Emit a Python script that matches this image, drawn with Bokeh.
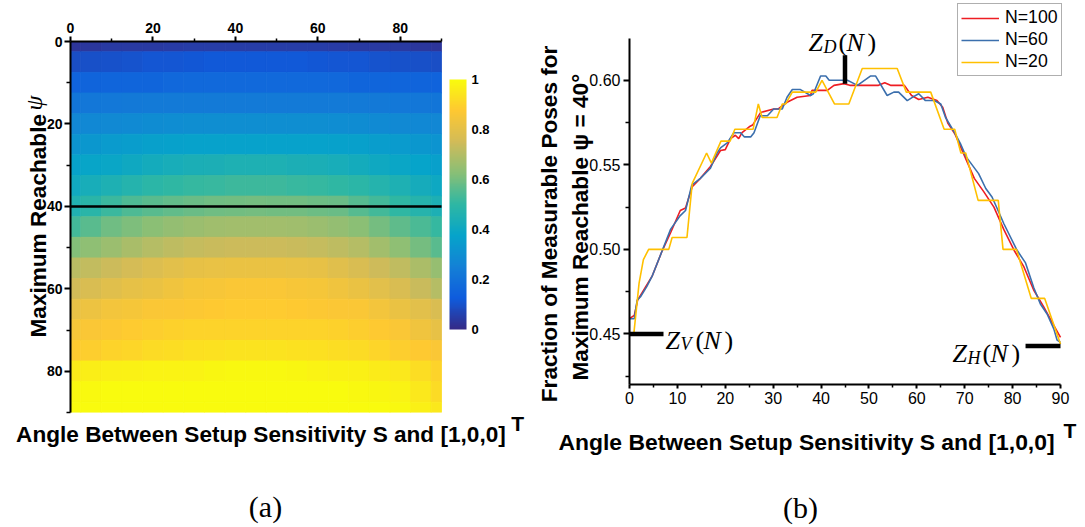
import math
import numpy as np
from bokeh.plotting import figure
from bokeh.models import (Range1d, FixedTicker, PrintfTickFormatter, NumeralTickFormatter,
                          LinearColorMapper, ColorBar, Label, Legend, LegendItem, ColumnDataSource)
from bokeh.transform import linear_cmap
from bokeh.embed import file_html
from bokeh.resources import INLINE

# ======================= (a) heat-map data =======================
angle_cols = [0, 5, 10, 15, 20, 25, 30, 35, 40, 45, 50, 55, 60, 65, 70, 75, 80, 85, 90]
psi_rows = [0, 5, 10, 15, 20, 25, 30, 35, 40, 45, 50, 55, 60, 65, 70, 75, 80, 85, 90]

frac_psi00 = [0.03, 0.035, 0.04, 0.04, 0.04, 0.045, 0.05, 0.05, 0.05, 0.05, 0.05, 0.05, 0.05,
              0.045, 0.04, 0.04, 0.04, 0.035, 0.03]
frac_psi05 = [0.09, 0.095, 0.10, 0.105, 0.11, 0.11, 0.115, 0.12, 0.12, 0.12, 0.12, 0.12, 0.115,
              0.11, 0.11, 0.105, 0.10, 0.095, 0.09]
frac_psi10 = [0.15, 0.155, 0.16, 0.16, 0.16, 0.165, 0.17, 0.17, 0.17, 0.17, 0.17, 0.17, 0.17,
              0.165, 0.16, 0.16, 0.16, 0.155, 0.15]
frac_psi15 = [0.21, 0.215, 0.22, 0.225, 0.23, 0.23, 0.23, 0.23, 0.23, 0.23, 0.23, 0.23, 0.23,
              0.23, 0.23, 0.225, 0.22, 0.215, 0.21]
frac_psi20 = [0.27, 0.275, 0.28, 0.285, 0.29, 0.295, 0.30, 0.30, 0.30, 0.30, 0.30, 0.30, 0.30,
              0.295, 0.29, 0.285, 0.28, 0.275, 0.27]
frac_psi25 = [0.32, 0.33, 0.34, 0.35, 0.36, 0.365, 0.37, 0.37, 0.37, 0.37, 0.37, 0.37, 0.37,
              0.365, 0.36, 0.35, 0.34, 0.33, 0.32]
frac_psi30 = [0.37, 0.38, 0.39, 0.405, 0.42, 0.43, 0.44, 0.445, 0.45, 0.45, 0.45, 0.445, 0.44,
              0.43, 0.42, 0.405, 0.39, 0.375, 0.36]
frac_psi35 = [0.41, 0.43, 0.45, 0.47, 0.49, 0.50, 0.51, 0.515, 0.52, 0.52, 0.52, 0.515, 0.51,
              0.50, 0.49, 0.47, 0.45, 0.425, 0.40]
frac_psi40 = [0.459, 0.486, 0.518, 0.543, 0.559, 0.5725, 0.583, 0.590, 0.594, 0.598, 0.597,
              0.597, 0.589, 0.585, 0.555, 0.529, 0.501, 0.473, 0.448]
frac_psi45 = [0.53, 0.56, 0.59, 0.61, 0.63, 0.645, 0.66, 0.665, 0.67, 0.67, 0.67, 0.665, 0.66,
              0.645, 0.63, 0.60, 0.57, 0.54, 0.51]
frac_psi50 = [0.62, 0.64, 0.66, 0.68, 0.70, 0.715, 0.73, 0.735, 0.74, 0.74, 0.74, 0.735, 0.73,
              0.715, 0.70, 0.67, 0.64, 0.60, 0.56]
frac_psi55 = [0.71, 0.725, 0.74, 0.76, 0.78, 0.795, 0.81, 0.815, 0.82, 0.82, 0.82, 0.815, 0.81,
              0.79, 0.77, 0.745, 0.72, 0.685, 0.65]
frac_psi60 = [0.75, 0.77, 0.79, 0.805, 0.82, 0.835, 0.85, 0.855, 0.86, 0.86, 0.86, 0.855, 0.85,
              0.835, 0.82, 0.795, 0.77, 0.735, 0.70]
frac_psi65 = [0.81, 0.825, 0.84, 0.85, 0.86, 0.865, 0.87, 0.875, 0.88, 0.88, 0.88, 0.875, 0.87,
              0.865, 0.86, 0.84, 0.82, 0.795, 0.77]
frac_psi70 = [0.85, 0.86, 0.87, 0.88, 0.89, 0.895, 0.90, 0.90, 0.90, 0.90, 0.90, 0.90, 0.90,
              0.895, 0.89, 0.875, 0.86, 0.835, 0.81]
frac_psi75 = [0.88, 0.89, 0.90, 0.91, 0.92, 0.925, 0.93, 0.935, 0.94, 0.94, 0.94, 0.935, 0.93,
              0.925, 0.92, 0.905, 0.89, 0.875, 0.86]
frac_psi80 = [0.96, 0.965, 0.97, 0.975, 0.98, 0.98, 0.98, 0.985, 0.99, 0.99, 0.99, 0.985, 0.98,
              0.975, 0.97, 0.96, 0.95, 0.925, 0.90]
frac_psi85 = [0.99, 0.995, 1.00, 1.00, 1.00, 1.00, 1.00, 1.00, 1.00, 1.00, 1.00, 1.00, 1.00,
              1.00, 0.99, 0.985, 0.98, 0.95, 0.92]
frac_psi90 = [1.00, 1.00, 1.00, 1.00, 1.00, 1.00, 1.00, 1.00, 1.00, 1.00, 1.00, 1.00, 1.00,
              1.00, 1.00, 1.00, 0.99, 0.97, 0.95]

heat_rows = [frac_psi00, frac_psi05, frac_psi10, frac_psi15, frac_psi20, frac_psi25,
             frac_psi30, frac_psi35, frac_psi40, frac_psi45, frac_psi50, frac_psi55,
             frac_psi60, frac_psi65, frac_psi70, frac_psi75, frac_psi80, frac_psi85,
             frac_psi90]

a_ticks = [0, 20, 40, 60, 80]
a_minor = [10, 30, 50, 70, 90]
cbar_ticks = [0, 0.2, 0.4, 0.6, 0.8, 1]
psi_slice = 40

# ======================= (b) line data =======================
n100_angle = [0, 1.0, 1.7, 3.3, 4.7, 6.8, 8.6, 10.6, 11.7, 13.1, 14.8, 16.9, 19.0, 20.0, 21.1,
              22.1, 22.8, 23.5, 25.0, 25.7, 27.4, 30.1, 31.0, 32.9, 35.0, 37.8, 38.1, 41.3, 42.7,
              44.8, 46.0, 52.0, 53.3, 54.5, 57.4, 58.9, 60.4, 62.3, 64.2, 65.4, 66.5, 68.0, 70.0,
              72.0, 74.0, 76.1, 78.2, 80.3, 82.3, 84.4, 86.5, 88.6, 90.0]
n100_frac = [0.459, 0.461, 0.470, 0.4775, 0.484, 0.499, 0.510, 0.523, 0.5245, 0.537, 0.542, 0.549,
             0.5585, 0.559, 0.5655, 0.5675, 0.5655, 0.569, 0.5725, 0.5735, 0.581, 0.583, 0.583,
             0.587, 0.590, 0.591, 0.594, 0.594, 0.597, 0.598, 0.597, 0.597, 0.5985, 0.597, 0.597,
             0.591, 0.5886, 0.590, 0.588, 0.584, 0.5745, 0.568, 0.555, 0.542, 0.534, 0.525,
             0.5115, 0.4995, 0.490, 0.476, 0.466, 0.455, 0.448]

n60_angle = [0, 1.0, 1.6, 2.3, 3.6, 4.7, 6.8, 8.6, 10.6, 11.7, 13.0, 14.8, 16.9, 18.3, 19.0, 20.4,
             21.8, 23.2, 24.0, 25.3, 26.0, 27.3, 28.8, 30.1, 31.9, 32.9, 34.0, 35.7, 37.8, 38.4,
             39.9, 41.0, 41.7, 45.5, 46.9, 47.6, 50.3, 51.4, 53.8, 55.2, 56.2, 58.0, 59.4, 60.4,
             61.8, 63.6, 65.0, 66.0, 67.8, 69.1, 70.3, 72.9, 74.4, 75.7, 76.8, 78.2, 80.9, 82.7,
             84.4, 85.8, 87.2, 88.6, 89.3, 90.0]
n60_frac = [0.459, 0.459, 0.470, 0.472, 0.478, 0.484, 0.499, 0.512, 0.520, 0.523, 0.538, 0.542,
            0.548, 0.557, 0.560, 0.563, 0.569, 0.569, 0.5665, 0.5665, 0.569, 0.579, 0.579, 0.583,
            0.583, 0.590, 0.5945, 0.5945, 0.591, 0.592, 0.6025, 0.6025, 0.600, 0.600, 0.598,
            0.597, 0.6025, 0.6025, 0.591, 0.593, 0.593, 0.588, 0.5905, 0.592, 0.588, 0.588,
            0.586, 0.578, 0.5695, 0.5625, 0.5547, 0.5448, 0.536, 0.531, 0.524, 0.515, 0.4996,
            0.492, 0.4775, 0.4677, 0.4618, 0.453, 0.4463, 0.445]

n20_angle = [0.9, 2.0, 2.9, 4.0, 8.2, 8.9, 12.0, 13.1, 16.1, 17.1, 19.1, 21.0, 22.0, 25.8, 26.9,
             27.7, 30.8, 31.9, 32.6, 34.0, 38.9, 40.2, 42.8, 45.8, 48.6, 55.9, 57.8, 62.9, 65.7,
             67.9, 69.2, 70.2, 72.8, 77.0, 78.0, 80.8, 83.9, 86.7, 90.0]
n20_frac = [0.450, 0.480, 0.494, 0.500, 0.500, 0.507, 0.507, 0.539, 0.557, 0.551, 0.564, 0.564,
            0.571, 0.571, 0.586, 0.578, 0.578, 0.586, 0.586, 0.593, 0.593, 0.600, 0.586, 0.586,
            0.607, 0.607, 0.593, 0.593, 0.571, 0.571, 0.557, 0.557, 0.529, 0.529, 0.500, 0.500,
            0.471, 0.471, 0.444]

series_labels = ["N=100", "N=60", "N=20"]
series_colors = ["#ee1d23", "#3b6fad", "#ffc000"]

b_xticks = [0, 10, 20, 30, 40, 50, 60, 70, 80, 90]
b_xminor = [5, 15, 25, 35, 45, 55, 65, 75, 85]
b_yticks = [0.45, 0.50, 0.55, 0.60]
b_yminor = [0.425, 0.475, 0.525, 0.575]

# marker positions of Z_D, Z_V, Z_H (angle, fraction)
zd_point = (45, 0.598)
zv_point = (0, 0.450)
zh_point = (90, 0.4428)

# ======================= styling helpers =======================
SANS = "Liberation Sans"
SERIF = "Liberation Serif"

stops = [(0.0, (53, 42, 135)), (0.125, (15, 92, 221)), (0.25, (20, 129, 214)),
         (0.375, (6, 164, 202)), (0.5, (46, 183, 164)), (0.625, (135, 191, 119)),
         (0.75, (209, 187, 89)), (0.875, (254, 200, 50)), (1.0, (249, 251, 14))]
tt = np.linspace(0, 1, 256)
sp = [s[0] for s in stops]
chan = [np.interp(tt, sp, [s[1][k] for s in stops]) for k in range(3)]
parula = ["#%02x%02x%02x" % (int(round(chan[0][i])), int(round(chan[1][i])), int(round(chan[2][i])))
          for i in range(256)]

# page-pixel geometry of the two frames
A_W, A_H = 528, 527
A_L, A_T, A_S = 70.0, 41.0, 371.0          # heat-map square
B_W, B_H = 557, 527
B_OFF = 528.0                               # page x of figure (b)
B_L, B_T, B_PW, B_PH = 629.0, 38.0, 431.0, 346.0
B_Y0, B_Y1 = 0.4201, 0.6247
A_XEND = 90.0 * (A_W - A_L) / A_S
B_XEND = 90.0 * (B_OFF + B_W - B_L) / B_PW
B_YEND = B_Y1 + B_T * (B_Y1 - B_Y0) / B_PH


def ax_(px):
    return (px - A_L) * 90.0 / A_S


def ay_(py):
    return (py - A_T) * 90.0 / A_S


def bx_(px):
    return (px - B_L) * 90.0 / B_PW


def by_(py):
    return B_Y1 - (py - B_T) * (B_Y1 - B_Y0) / B_PH


def lab(fig, text, x, y, size, font=SANS, style="normal", angle=0.0, align="left", place="center"):
    fig.add_layout(Label(x=x, y=y, text=text, text_font=font, text_font_style=style,
                         text_font_size=size, text_color="black", angle=angle,
                         text_align=align, text_baseline="alphabetic"), place)


def style_axis(axis, ticks, minor, size, bold, tick_out, minor_out, standoff, bounds):
    axis.ticker = FixedTicker(ticks=ticks, minor_ticks=minor)
    axis.bounds = bounds
    axis.axis_line_color = "black"
    axis.axis_line_width = 2
    axis.major_tick_line_color = "black"
    axis.major_tick_line_width = 2
    axis.minor_tick_line_color = "black"
    axis.minor_tick_line_width = 1.5
    axis.major_tick_in = 0
    axis.major_tick_out = tick_out
    axis.minor_tick_in = 0
    axis.minor_tick_out = minor_out
    axis.major_label_text_font = SANS
    axis.major_label_text_font_size = size
    axis.major_label_text_font_style = "bold" if bold else "normal"
    axis.major_label_text_color = "black"
    axis.major_label_standoff = standoff


# ======================= figure (a) =======================
pA = figure(width=A_W, height=A_H, x_range=Range1d(0, A_XEND), y_range=Range1d(90, 0),
            x_axis_location="above", output_backend="svg", toolbar_location=None,
            min_border_left=int(A_L), min_border_right=0, min_border_top=int(A_T),
            min_border_bottom=int(A_H - A_T - A_S))
pA.outline_line_color = None
pA.grid.visible = False
pA.background_fill_color = "white"
pA.border_fill_color = "white"

half_w = (angle_cols[1] - angle_cols[0]) / 2.0
half_h = (psi_rows[1] - psi_rows[0]) / 2.0
cells = dict(l=[], r=[], t=[], b=[], v=[])
for j, psi in enumerate(psi_rows):
    for i, ang in enumerate(angle_cols):
        cells["l"].append(max(angle_cols[0], ang - half_w))
        cells["r"].append(min(angle_cols[-1], ang + half_w))
        cells["t"].append(max(psi_rows[0], psi - half_h))
        cells["b"].append(min(psi_rows[-1], psi + half_h))
        cells["v"].append(heat_rows[j][i])
cmap = linear_cmap("v", parula, 0, 1)
pA.quad(left="l", right="r", top="t", bottom="b", source=ColumnDataSource(cells),
        fill_color=cmap, line_color=cmap, line_width=0.8)
pA.segment(x0=[angle_cols[0]], y0=[psi_slice], x1=[angle_cols[-1]], y1=[psi_slice],
           line_color="black", line_width=2.5)

style_axis(pA.xaxis[0], a_ticks, a_minor, "14px", True, 5, 3, 4, (0, 90))
style_axis(pA.yaxis[0], a_ticks, a_minor, "14px", True, 6, 4, 2, (0, 90))

mapper = LinearColorMapper(palette=parula, low=0, high=1)
cbar = ColorBar(color_mapper=mapper, ticker=FixedTicker(ticks=cbar_ticks),
                formatter=NumeralTickFormatter(format="0.[0]"), width=17, height=250,
                location=(449 - A_L, A_T + A_S - 329), padding=0, margin=0,
                major_tick_line_color=None, minor_tick_line_color=None, bar_line_color=None,
                border_line_color=None, background_fill_alpha=0, label_standoff=5,
                major_label_text_font=SANS, major_label_text_font_size="13px",
                major_label_text_font_style="bold", major_label_text_color="black")
pA.add_layout(cbar)

lab(pA, "Maximum Reachable", ax_(38.3), ay_(337), "22.6px", style="bold",
    angle=math.pi / 2, place="left")
lab(pA, "\u03c8", ax_(33), ay_(110), "24px", font=SERIF, style="italic",
    angle=math.pi / 2, place="below")
lab(pA, "Angle Between Setup Sensitivity S and [1,0,0]", ax_(15.6), ay_(434), "22.6px",
    style="bold", place="below")
lab(pA, "T", ax_(510.7), ay_(423), "21px", style="bold", place="below")
lab(pA, "(a)", ax_(265), ay_(506), "30px", font=SERIF, align="center", place="below")

# ======================= figure (b) =======================
pB = figure(width=B_W, height=B_H, x_range=Range1d(0, B_XEND), y_range=Range1d(B_Y0, B_YEND),
            output_backend="svg", toolbar_location=None,
            min_border_left=int(B_L - B_OFF), min_border_right=0, min_border_top=0,
            min_border_bottom=int(B_H - (B_T + B_PH)))
pB.outline_line_color = None
pB.grid.visible = False
pB.background_fill_color = "white"
pB.border_fill_color = "white"

r1 = pB.line(n100_angle, n100_frac, line_color=series_colors[0], line_width=1.6)
r2 = pB.line(n60_angle, n60_frac, line_color=series_colors[1], line_width=1.6)
r3 = pB.line(n20_angle, n20_frac, line_color=series_colors[2], line_width=1.6)

# Z markers (thick black bars)
pB.segment(x0=[zd_point[0]], y0=[zd_point[1]], x1=[zd_point[0]], y1=[zd_point[1] + 0.0168],
           line_color="black", line_width=4.5)
pB.segment(x0=[zv_point[0]], y0=[zv_point[1]], x1=[zv_point[0] + 7.1], y1=[zv_point[1]],
           line_color="black", line_width=4.5)
pB.segment(x0=[zh_point[0] - 7.3], y0=[zh_point[1]], x1=[zh_point[0]], y1=[zh_point[1]],
           line_color="black", line_width=4.5)

style_axis(pB.xaxis[0], b_xticks, b_xminor, "16px", False, 4, 3, 3, (0, 90))
style_axis(pB.yaxis[0], b_yticks, b_yminor, "16px", False, 6, 4, 3, (B_Y0, B_Y1))
pB.yaxis[0].formatter = PrintfTickFormatter(format="%.2f")

legend = Legend(items=[LegendItem(label=series_labels[0], renderers=[r1]),
                       LegendItem(label=series_labels[1], renderers=[r2]),
                       LegendItem(label=series_labels[2], renderers=[r3])],
                location=(957 - B_L, B_T + B_PH - 76), padding=3, spacing=1, margin=0,
                glyph_width=38, glyph_height=20, label_height=20, label_standoff=6,
                label_text_font=SANS, label_text_font_size="17.7px", label_text_color="black",
                border_line_color="#606060", border_line_width=1.2,
                background_fill_color="white", background_fill_alpha=1)
pB.add_layout(legend)

lab(pB, "Fraction of Measurable Poses for", bx_(549), by_(401.7), "22.6px", style="bold",
    angle=math.pi / 2, place="left")
lab(pB, "Maximum Reachable \u03c8 = 40\u00b0", bx_(580), by_(380), "22.6px", style="bold",
    angle=math.pi / 2, place="left")
lab(pB, "Angle Between Setup Sensitivity S and [1,0,0]", bx_(558), by_(441), "22.9px",
    style="bold", place="below")
lab(pB, "T", bx_(1063), by_(430), "21px", style="bold", place="below")
lab(pB, "(b)", bx_(800), by_(507), "30px", font=SERIF, align="center", place="below")


def zlabel(fig, sub, z_px, base_py):
    lab(fig, "Z", bx_(z_px), by_(base_py), "26px", font=SERIF, style="italic")
    lab(fig, sub, bx_(z_px + 15), by_(base_py + 4), "18px", font=SERIF, style="italic")
    lab(fig, "(", bx_(z_px + 30), by_(base_py), "26px", font=SERIF)
    lab(fig, "N", bx_(z_px + 38), by_(base_py), "26px", font=SERIF, style="italic")
    lab(fig, ")", bx_(z_px + 59), by_(base_py), "26px", font=SERIF)


zlabel(pB, "D", 808, 42)
zlabel(pB, "V", 665, 339.5)
zlabel(pB, "H", 952, 353.3)

PAGE_TEMPLATE = """
{% block postamble %}
<style>
  body { display: flex !important; flex-direction: row !important;
         align-items: flex-start !important; overflow: hidden !important; }
</style>
{% endblock %}
"""

open("out.html", "w").write(file_html([pA, pB], INLINE, template=PAGE_TEMPLATE))
